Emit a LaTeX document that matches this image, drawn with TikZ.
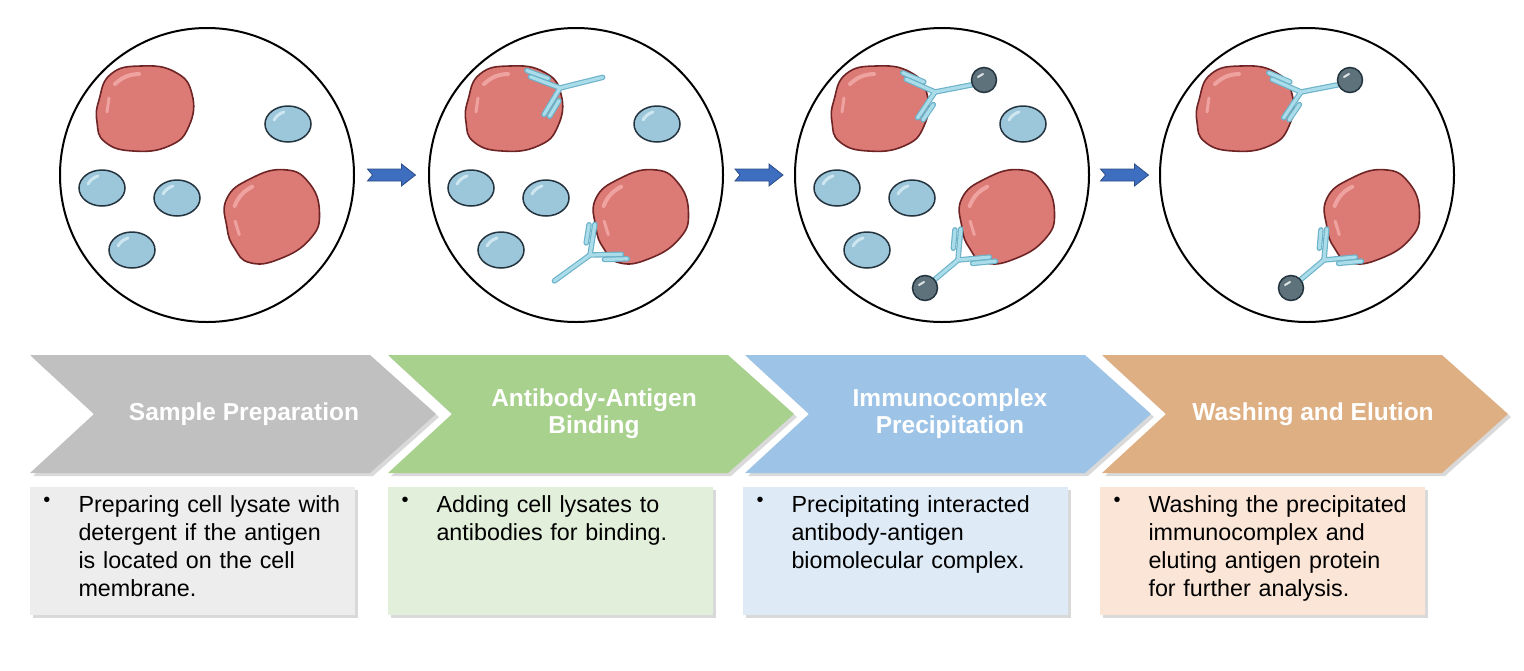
\documentclass[tikz,border=0pt]{standalone}
\usepackage{fontspec}
\setmainfont{Liberation Sans}
\usetikzlibrary{shadows}
\definecolor{redc}{HTML}{DC7A76}
\definecolor{redo}{HTML}{6E2424}
\definecolor{redh}{HTML}{EFA3A0}
\definecolor{bluec}{HTML}{9CC6DA}
\definecolor{blueo}{HTML}{24343F}
\definecolor{blueh}{HTML}{CDE6F0}
\definecolor{abf}{HTML}{AADCEA}
\definecolor{abo}{HTML}{6CB2C8}
\definecolor{bead}{HTML}{5E727C}
\definecolor{chg}{HTML}{C0C0C0}
\definecolor{chgr}{HTML}{A9D18E}
\definecolor{chb}{HTML}{9DC3E6}
\definecolor{cho}{HTML}{DFAF84}
\definecolor{bxg}{HTML}{EDEDED}
\definecolor{bxgr}{HTML}{E2EFDA}
\definecolor{bxb}{HTML}{DEEBF7}
\definecolor{bxo}{HTML}{FBE5D6}
\definecolor{arr}{HTML}{3E6EC0}
\tikzset{
 dish/.style={circle,draw=black,line width=2pt,minimum size=294pt,inner sep=0pt},
 hdr/.style={text=white,font=\fontsize{24.5}{27}\selectfont\bfseries,align=center},
 body/.style={font=\fontsize{23.3}{28}\selectfont,align=left,anchor=north west,text width=300pt},
 shad/.style={drop shadow={opacity=0.3,shadow xshift=3pt,shadow yshift=-3pt}},
 redcell/.pic={
   \draw[fill=redc,draw=redo,line width=1.6pt] plot[smooth cycle,tension=0.8] coordinates
   {(-46,-8) (-34,-34) (-4,-42) (30,-36) (47,-14) (44,18) (24,38) (-12,43) (-40,34) (-48,14)};
   \draw[redh,line width=4pt,line cap=round] (-30,-24) to[bend left=20] (-6,-34);
   \draw[redh,line width=3pt,line cap=round] (-38,4) -- (-36,-10);
 },
 bcell/.pic={
   \draw[fill=bluec,draw=blueo,line width=1.5pt] (0,0) ellipse [x radius=23pt,y radius=18pt];
   \draw[blueh,line width=3pt,line cap=round] (-14,-4) to[bend left=20] (-4,-12);
 },
 abody/.pic={
   \foreach \c/\w in {abo/5.5pt,abf/3.2pt}{
     \draw[\c,line width=\w,line cap=round,line join=round] (44,0) -- (0,0) -- (-26,-18);
     \draw[\c,line width=\w,line cap=round,line join=round] (0,0) -- (-22,22);
     \draw[\c,line width=\w,line cap=round] (-9,-12) -- (-28,-25);
     \draw[\c,line width=\w,line cap=round] (-4,12) -- (-17,25);
   }
 },
 beadp/.pic={
   \draw[fill=bead,draw=blueo,line width=1.5pt] (0,0) circle (12.5pt);
   \draw[white!80!bead,line width=2pt,line cap=round] (-6,-3) -- (-1,-6);
 }
}
\begin{document}
\begin{tikzpicture}[x=1pt,y=-1pt]
\useasboundingbox (0,0) rectangle (1524,670);
% dishes
\node[dish] (d1) at (207,175) {};
\node[dish] (d2) at (576,175) {};
\node[dish] (d3) at (942,175) {};
\node[dish] (d4) at (1307,175) {};
% arrows between dishes
\foreach \a/\b in {d1/d2,d2/d3,d3/d4}{
  \path (\a.east) -- (\b.west) coordinate[pos=0.5] (m\a);
  \fill[arr,draw=arr!70!black,line width=0.8pt] ([xshift=-24pt,yshift=-6pt]m\a) -- ([xshift=10pt,yshift=-6pt]m\a) -- ([xshift=10pt,yshift=-11pt]m\a)
   -- ([xshift=24pt]m\a) -- ([xshift=10pt,yshift=11pt]m\a) -- ([xshift=10pt,yshift=6pt]m\a) -- ([xshift=-24pt,yshift=6pt]m\a) -- ([xshift=-19pt]m\a) -- cycle;
}
% cells
\foreach \o/\k in {0/1,369/2,735/3}{
  \begin{scope}[xshift=\o]
  \pic at (288,124) {bcell};
  \pic at (102,188) {bcell};
  \pic at (177,198) {bcell};
  \pic at (132,250) {bcell};
  \end{scope}
}
\foreach \o in {0,369,735,1100}{
  \pic at (145+\o,108) {redcell};
  \pic[rotate=25] at (272+\o,215) {redcell};
}
% antibodies
\pic[rotate=14] at (560,88) {abody};
\pic[rotate=-144] at (590,255) {abody};
\foreach \o in {0,366}{
  \pic[rotate=11] at (935+\o,92) {abody};
  \pic[rotate=-140] at (958+\o,260) {abody};
  \pic at (984+\o,80) {beadp};
  \pic at (925+\o,288) {beadp};
}
% chevrons
\foreach \x/\c/\n in {30/chg/c1,388/chgr/c2,745/chb/c3,1102/cho/c4}{
  \fill[\c,shad] (\x,355) -- (\x+340,355) -- (\x+406,414) -- (\x+340,473) -- (\x,473) -- (\x+64,414) -- cycle;
}
\node[hdr] (h1) at (244,414) {Sample Preparation};
\node[hdr] (h2) at (594,414) {Antibody-Antigen\\Binding};
\node[hdr] (h3) at (950,414) {Immunocomplex\\Precipitation};
\node[hdr] (h4) at (1313,414) {Washing and Elution};
% boxes
\foreach \x/\c in {30/bxg,388/bxgr,743/bxb,1100/bxo}{
  \fill[\c,shad] (\x,487) rectangle (\x+325,615);
}
\foreach \x/\n/\t in {30/t1/{Preparing cell lysate with\\detergent if the antigen\\is located on the cell\\membrane.},
  388/t2/{Adding cell lysates to\\antibodies for binding.},
  743/t3/{Precipitating interacted\\antibody-antigen\\biomolecular complex.},
  1100/t4/{Washing the precipitated\\immunocomplex and\\eluting antigen protein\\for further analysis.}}{
  \node[font=\fontsize{20}{28}\selectfont,anchor=north] (b\n) at (\x+17,494) {•};
  \node[body] (\n) at (\x+45,492) {\t};
}
\end{tikzpicture}
\end{document}
